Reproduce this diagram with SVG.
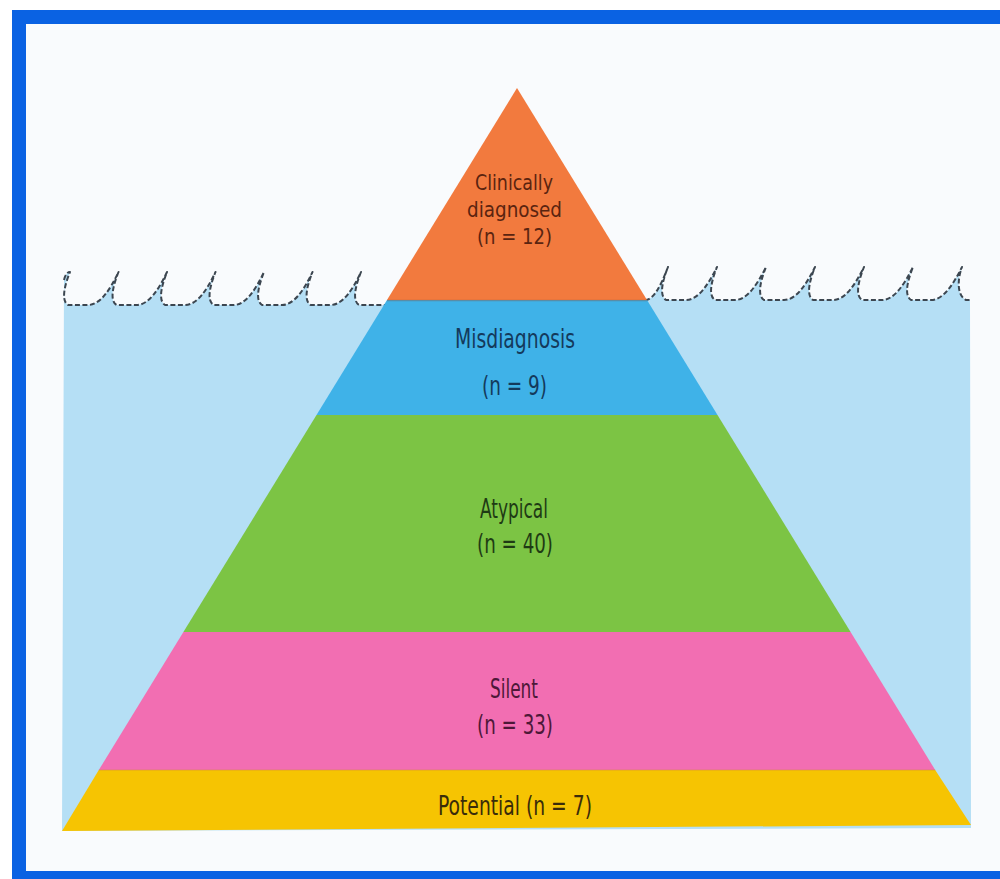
<svg xmlns="http://www.w3.org/2000/svg" width="1000" height="879" viewBox="0 0 1000 879">
<style>
.lbl{font-family:"Liberation Sans Narrow","DejaVu Sans Condensed","Liberation Sans",sans-serif;font-size:26px;text-anchor:middle}
.top{font-size:21.5px}
.wave{fill:none;stroke:#3c4650;stroke-width:2;stroke-dasharray:5 2.5;stroke-linejoin:round}
.seam{stroke-width:1.5;opacity:0.35}
</style>
<rect x="0" y="0" width="1000" height="879" fill="#ffffff"/>
<rect x="19" y="17" width="1000" height="861" fill="#f9fbfd" stroke="#0a62e3" stroke-width="14"/>
<g id="water">
<path fill="#b5dff5" d="M64,280 Q66,272 70,272 C66,282 60,300 68,305 L88,305 C100,305 110,290 118.5,272 C114.5,282 108.5,300 116.5,305 L136.5,305 C148.5,305 158.5,290 167,272 C163,282 157,300 165,305 L185,305 C197,305 207,290 215.5,272 C211.5,282 205.5,300 213.5,305 L233.5,305 C245.5,305 255.5,290 264,272 C260,282 254,300 262,305 L282,305 C294,305 304,290 312.5,272 C308.5,282 302.5,300 310.5,305 L330.5,305 C342.5,305 352.5,290 361,272 C357,282 351,300 359,305 L500,305 L645,300 C654,300 661,285 668,267 C664,277 658,295 666,300 L686,300 C698,300 708,285 717,267 C713,277 707,295 715,300 L735,300 C747,300 757,285 766,267 C762,277 756,295 764,300 L784,300 C796,300 806,285 815,267 C811,277 805,295 813,300 L833,300 C845,300 855,285 864,267 C860,277 854,295 862,300 L882,300 C894,300 904,285 913,267 C909,277 903,295 911,300 L931,300 C943,300 953,285 962,267 C958,277 956,295 966,300 L970,300 L971,828 L62,831 Z"/>
</g>
<g id="connectors">
<path class="wave" d="M64,280 Q66,272 70,272 C66,282 60,300 68,305 L88,305 C100,305 110,290 118.5,272 C114.5,282 108.5,300 116.5,305 L136.5,305 C148.5,305 158.5,290 167,272 C163,282 157,300 165,305 L185,305 C197,305 207,290 215.5,272 C211.5,282 205.5,300 213.5,305 L233.5,305 C245.5,305 255.5,290 264,272 C260,282 254,300 262,305 L282,305 C294,305 304,290 312.5,272 C308.5,282 302.5,300 310.5,305 L330.5,305 C342.5,305 352.5,290 361,272 C357,282 351,300 359,305 L390,305"/>
<path class="wave" d="M645,300 C654,300 661,285 668,267 C664,277 658,295 666,300 L686,300 C698,300 708,285 717,267 C713,277 707,295 715,300 L735,300 C747,300 757,285 766,267 C762,277 756,295 764,300 L784,300 C796,300 806,285 815,267 C811,277 805,295 813,300 L833,300 C845,300 855,285 864,267 C860,277 854,295 862,300 L882,300 C894,300 904,285 913,267 C909,277 903,295 911,300 L931,300 C943,300 953,285 962,267 C958,277 956,295 966,300 L970,300"/>
</g>
<g id="clinically-diagnosed">
<polygon points="517,88 387,300 647,300" fill="#f27a3e"/>
<text class="lbl top" x="514" y="190" fill="#5a2410" textLength="78" lengthAdjust="spacingAndGlyphs">Clinically</text>
<text class="lbl top" x="514.5" y="217" fill="#5a2410" textLength="95" lengthAdjust="spacingAndGlyphs">diagnosed</text>
<text class="lbl top" x="514.5" y="244" fill="#5a2410" textLength="75" lengthAdjust="spacingAndGlyphs">(n = 12)</text>
</g>
<g id="misdiagnosis">
<polygon points="387,300 647,300 717.5,415 316.5,415" fill="#3fb2e8"/>
<line class="seam" x1="387" y1="300.5" x2="647" y2="300.5" stroke="#8a4a30"/>
<text class="lbl" x="515" y="348" fill="#143a5c" textLength="120" lengthAdjust="spacingAndGlyphs">Misdiagnosis</text>
<text class="lbl" x="514.5" y="395" fill="#143a5c" textLength="65" lengthAdjust="spacingAndGlyphs">(n = 9)</text>
</g>
<g id="atypical">
<polygon points="316.5,415 717.5,415 850.6,632 183.4,632" fill="#7cc444"/>
<text class="lbl" x="514" y="518" fill="#1f3a14" textLength="68" lengthAdjust="spacingAndGlyphs">Atypical</text>
<text class="lbl" x="515" y="553" fill="#1f3a14" textLength="76" lengthAdjust="spacingAndGlyphs">(n = 40)</text>
</g>
<g id="silent">
<polygon points="183.4,632 850.6,632 935.2,770 98.8,770" fill="#f26eb2"/>
<text class="lbl" x="514" y="698" fill="#4d1838" textLength="48" lengthAdjust="spacingAndGlyphs">Silent</text>
<text class="lbl" x="515" y="734" fill="#4d1838" textLength="76" lengthAdjust="spacingAndGlyphs">(n = 33)</text>
</g>
<g id="potential">
<polygon points="98.8,770 935.2,770 971,825 62,831" fill="#f6c402"/>
<line class="seam" x1="98.8" y1="770" x2="935.2" y2="770" stroke="#d08a40"/>
<text class="lbl" x="515" y="815" fill="#3a2c0a" textLength="154" lengthAdjust="spacingAndGlyphs">Potential (n = 7)</text>
</g>
</svg>
